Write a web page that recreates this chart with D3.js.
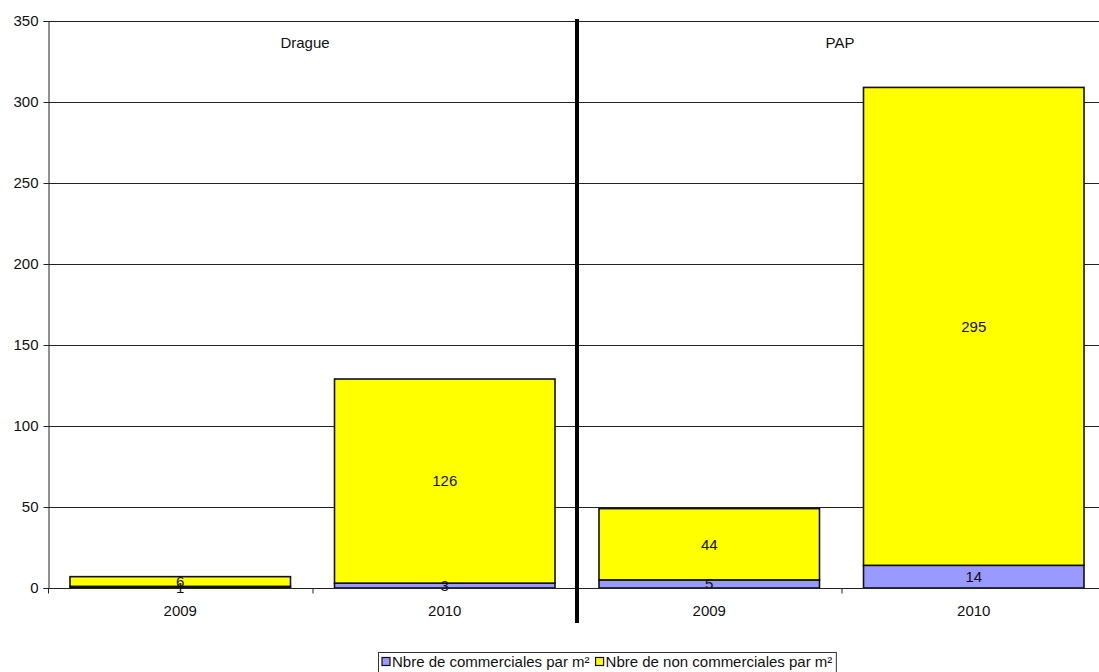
<!DOCTYPE html>
<html>
<head>
<meta charset="utf-8">
<script src="https://cdn.jsdelivr.net/npm/d3@7"></script>
<style>
  html, body { margin: 0; padding: 0; background: #fff; }
  svg { display: block; font-family: "Liberation Sans", Arial, sans-serif; }
</style>
</head>
<body>
<svg id="chart" width="1099" height="672"></svg>
<script>
// Two groups (Drague, PAP), each with 2009 and 2010 stacked bars
const groups = ["Drague", "PAP"];
const years = ["2009", "2010", "2009", "2010"];
const commerciales = [1, 3, 5, 14];
const nonCommerciales = [6, 126, 44, 295];
const seriesNames = ["Nbre de commerciales par m²", "Nbre de non commerciales par m²"];
const seriesColors = ["#9999FF", "#FFFF00"];
const yTicks = [0, 50, 100, 150, 200, 250, 300, 350];

const FS = 15;
const svg = d3.select("#chart");
const margin = { left: 48, top: 21, right: -7, bottom: 84 };
const W = 1099, H = 672;
const x0 = margin.left, x1 = W - margin.right;
const yTop = margin.top, yBot = H - margin.bottom;

const idx = d3.range(years.length);
const x = d3.scaleBand().domain(idx).range([x0, x1]).paddingInner(0).paddingOuter(0);
const innerPad = 22;
const y = d3.scaleLinear().domain([0, 350]).range([yBot, yTop]);

// Gridlines
svg.append("g")
  .selectAll("line")
  .data(yTicks.filter(d => d > 0))
  .join("line")
  .attr("x1", x0).attr("x2", x1)
  .attr("y1", d => Math.round(y(d)) + 0.5).attr("y2", d => Math.round(y(d)) + 0.5)
  .attr("stroke", "#222").attr("stroke-width", 1);

// Y axis
const yAxis = d3.axisLeft(y).tickValues(yTicks).tickSize(5).tickPadding(5);
const gy = svg.append("g").attr("transform", `translate(${x0 + 0.5},0)`).call(yAxis);
gy.select(".domain").attr("stroke", "#222");
gy.selectAll(".tick line").attr("stroke", "#222");
gy.selectAll(".tick text").attr("font-size", FS).attr("fill", "#111")
  .attr("font-family", "Liberation Sans, Arial, sans-serif");

// Stacked data
const table = idx.map(i => ({ i, c: commerciales[i], n: nonCommerciales[i] }));
const stack = d3.stack().keys(["c", "n"]);
const layers = stack(table);

const bars = svg.append("g");
layers.forEach((layer, li) => {
  bars.append("g")
    .selectAll("rect")
    .data(layer)
    .join("rect")
    .attr("x", d => x(d.data.i) + innerPad)
    .attr("width", x.bandwidth() - 2 * innerPad)
    .attr("y", d => y(d[1]))
    .attr("height", d => y(d[0]) - y(d[1]))
    .attr("fill", seriesColors[li])
    .attr("stroke", "#111")
    .attr("stroke-width", 1.6);
});

// Value labels centered in segments
layers.forEach((layer, li) => {
  bars.append("g")
    .selectAll("text")
    .data(layer)
    .join("text")
    .attr("x", d => x(d.data.i) + x.bandwidth() / 2)
    .attr("y", d => (y(d[0]) + y(d[1])) / 2)
    .attr("dy", "0.36em")
    .attr("text-anchor", "middle")
    .attr("font-size", FS)
    .attr("fill", "#111")
    .text(d => d[1] - d[0]);
});

// X axis
const gx = svg.append("g").attr("transform", `translate(0,${Math.round(yBot) + 0.5})`);
gx.append("line").attr("x1", x0).attr("x2", x1).attr("stroke", "#222");
gx.selectAll("line.tick")
  .data(idx.concat([idx.length]))
  .join("line")
  .attr("class", "tick")
  .attr("x1", d => (d < idx.length ? x(d) : x1) + 0.5)
  .attr("x2", d => (d < idx.length ? x(d) : x1) + 0.5)
  .attr("y1", 0).attr("y2", 5)
  .attr("stroke", "#222");
gx.selectAll("text")
  .data(idx)
  .join("text")
  .attr("x", d => x(d) + x.bandwidth() / 2)
  .attr("y", 27)
  .attr("text-anchor", "middle")
  .attr("font-size", FS)
  .attr("fill", "#111")
  .text(d => years[d]);

// Group separator
const sepX = x(2);
svg.append("line")
  .attr("x1", sepX).attr("x2", sepX)
  .attr("y1", yTop - 2).attr("y2", 623)
  .attr("stroke", "#000").attr("stroke-width", 4);

// Group titles
const groupCenters = [305, 840];
svg.append("g").selectAll("text")
  .data(groups)
  .join("text")
  .attr("x", (d, i) => groupCenters[i])
  .attr("y", 48)
  .attr("text-anchor", "middle")
  .attr("font-size", FS)
  .attr("fill", "#111")
  .text(d => d);

// Legend
const lg = svg.append("g");
const lgBox = lg.append("rect")
  .attr("x", 378.5).attr("y", 652.5)
  .attr("width", 460).attr("height", 22)
  .attr("fill", "#fff").attr("stroke", "#333");
let lx = 382;
seriesNames.forEach((name, i) => {
  lg.append("rect")
    .attr("x", lx).attr("y", 657.5)
    .attr("width", 8).attr("height", 8)
    .attr("fill", seriesColors[i]).attr("stroke", "#111").attr("stroke-width", 1.2);
  const t = lg.append("text")
    .attr("x", lx + 10).attr("y", 667)
    .attr("font-size", FS).attr("fill", "#111")
    .text(name);
  lx += 10 + t.node().getComputedTextLength() + 6;
});
lgBox.attr("width", lx - 378.5 - 2);
</script>
</body>
</html>
